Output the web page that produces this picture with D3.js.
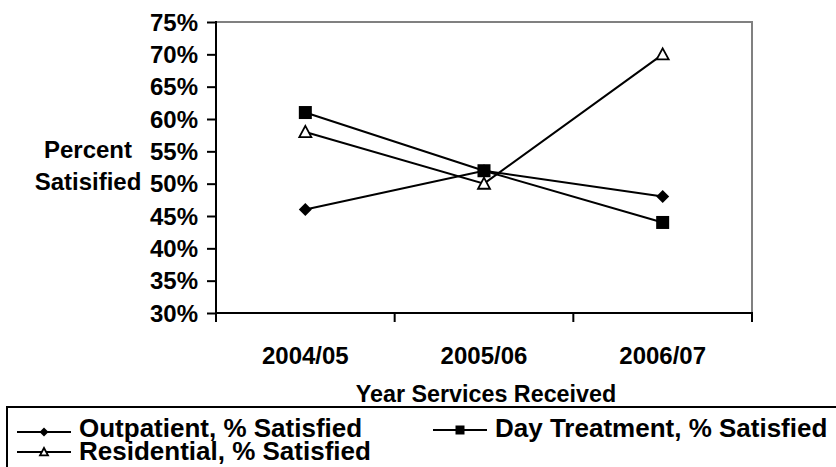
<!DOCTYPE html>
<html>
<head>
<meta charset="utf-8">
<script src="https://cdn.jsdelivr.net/npm/d3@7"></script>
<style>
  html, body { margin: 0; padding: 0; background: #fff; }
  svg { display: block; font-family: "Liberation Sans", Arial, sans-serif; font-weight: bold; }
</style>
</head>
<body>
<svg id="chart" width="836" height="467"></svg>
<script>
// Survey years on the category axis
const years = ["2004/05", "2005/06", "2006/07"];

// Percent satisfied per service type
const outpatient = [46, 52, 48];
const dayTreatment = [61, 52, 44];
const residential = [58, 50, 70];

const seriesNames = ["Outpatient, % Satisfied", "Day Treatment, % Satisfied", "Residential, % Satisfied"];
const yTicks = [30, 35, 40, 45, 50, 55, 60, 65, 70, 75];

const svg = d3.select("#chart");
const plot = { left: 216, right: 752, top: 22, bottom: 313 };

const x = d3.scaleBand().domain(years).range([plot.left, plot.right]);
const y = d3.scaleLinear().domain([30, 75]).range([plot.bottom, plot.top]);
const cx = d => x(d) + x.bandwidth() / 2;

// Plot frame: grey top and right edges
svg.append("path")
  .attr("d", `M${plot.left},${plot.top}H${plot.right}V${plot.bottom}`)
  .attr("fill", "none").attr("stroke", "#808080").attr("stroke-width", 2);

// Y axis
const yAxis = d3.axisLeft(y).tickValues(yTicks).tickFormat(d => d + "%")
  .tickSize(9).tickPadding(9);
const yg = svg.append("g").attr("transform", `translate(${plot.left},0)`).call(yAxis);
yg.select(".domain").remove();
yg.selectAll(".tick line").attr("stroke", "#000").attr("stroke-width", 2);
yg.selectAll(".tick text").attr("font-size", 24).attr("fill", "#000")
  .attr("font-family", "'Liberation Sans', Arial, sans-serif").attr("font-weight", "bold")
  .attr("dy", "0.34em");
svg.append("line")
  .attr("x1", plot.left).attr("x2", plot.left)
  .attr("y1", plot.top - 1).attr("y2", plot.bottom + 9)
  .attr("stroke", "#000").attr("stroke-width", 2);

// X axis: ticks on category boundaries, labels centred in each band
const boundaries = years.map(d => x(d)).concat([x(years[years.length - 1]) + x.bandwidth()]);
svg.append("line")
  .attr("x1", plot.left).attr("x2", plot.right + 1)
  .attr("y1", plot.bottom).attr("y2", plot.bottom)
  .attr("stroke", "#000").attr("stroke-width", 2);
svg.selectAll(".xtick").data(boundaries).join("line").attr("class", "xtick")
  .attr("x1", d => d).attr("x2", d => d)
  .attr("y1", plot.bottom).attr("y2", plot.bottom + 9)
  .attr("stroke", "#000").attr("stroke-width", 2);
svg.selectAll(".xlabel").data(years).join("text").attr("class", "xlabel")
  .attr("x", d => cx(d)).attr("y", 364)
  .attr("text-anchor", "middle").attr("font-size", 24).text(d => d);

// Axis titles
svg.append("text").attr("x", 486).attr("y", 402).attr("text-anchor", "middle")
  .attr("font-size", 23.3).text("Year Services Received");
svg.append("text").attr("x", 88).attr("y", 158).attr("text-anchor", "middle")
  .attr("font-size", 24).text("Percent");
svg.append("text").attr("x", 88).attr("y", 190).attr("text-anchor", "middle")
  .attr("font-size", 24).text("Satisified");

// Marker drawers
const markers = {
  diamond: (g, s) => g.append("path")
    .attr("d", `M0,${-s}L${s},0L0,${s}L${-s},0Z`).attr("fill", "#000"),
  square: (g, s) => g.append("rect")
    .attr("x", -s).attr("y", -s).attr("width", 2 * s).attr("height", 2 * s).attr("fill", "#000"),
  triangle: (g, s) => g.append("path")
    .attr("d", `M0,${-s}L${s * 1.0},${s * 0.85}L${-s * 1.0},${s * 0.85}Z`)
    .attr("fill", "#fff").attr("stroke", "#000").attr("stroke-width", 1.8)
};

const series = [
  { name: seriesNames[0], values: outpatient, marker: "diamond", size: 6.5 },
  { name: seriesNames[1], values: dayTreatment, marker: "square", size: 6.5 },
  { name: seriesNames[2], values: residential, marker: "triangle", size: 6 }
];

const line = d3.line().x((d, i) => cx(years[i])).y(d => y(d));

series.forEach(s => {
  svg.append("path").datum(s.values).attr("d", line)
    .attr("fill", "none").attr("stroke", "#000").attr("stroke-width", 2);
});
series.forEach(s => {
  s.values.forEach((v, i) => {
    const g = svg.append("g").attr("transform", `translate(${cx(years[i])},${y(v)})`);
    markers[s.marker](g, s.size);
  });
});

// Legend
svg.append("rect").attr("x", 7).attr("y", 407).attr("width", 840).attr("height", 80)
  .attr("fill", "none").attr("stroke", "#000").attr("stroke-width", 2);
const legendItems = [
  { s: series[0], lx: 17, ly: 432, ty: 437 },
  { s: series[1], lx: 433, ly: 430, ty: 437 },
  { s: series[2], lx: 17, ly: 452, ty: 460 }
];
legendItems.forEach(it => {
  const g = svg.append("g");
  g.append("line").attr("x1", it.lx).attr("x2", it.lx + 54)
    .attr("y1", it.ly).attr("y2", it.ly).attr("stroke", "#000").attr("stroke-width", 2);
  const mg = g.append("g").attr("transform", `translate(${it.lx + 27},${it.ly})`);
  markers[it.s.marker](mg, it.s.marker === "triangle" ? 4 : 4.5);
  g.append("text").attr("x", it.lx + 62).attr("y", it.ty)
    .attr("font-size", 26).text(it.s.name);
});
</script>
</body>
</html>
